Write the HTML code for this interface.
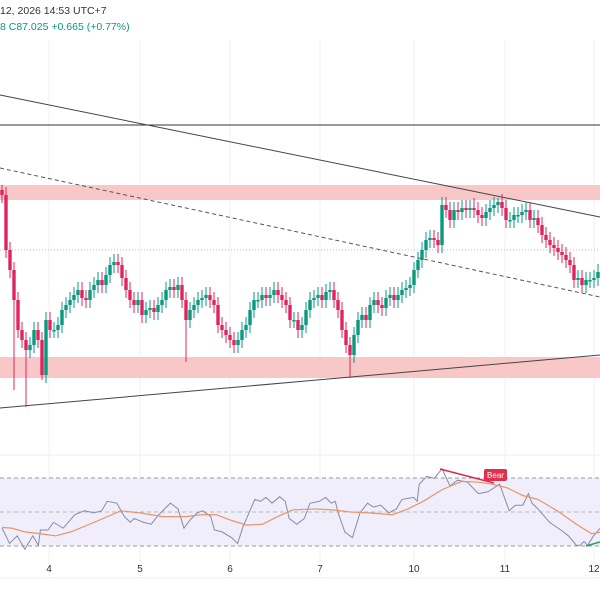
<!DOCTYPE html>
<html><head><meta charset="utf-8">
<style>
html,body{margin:0;padding:0;background:#fff;}
svg{display:block;font-family:"Liberation Sans",sans-serif;}
</style></head>
<body>
<svg id="chart" width="600" height="600" viewBox="0 0 600 600">
  <g id="grid"></g>
  <rect x="0" y="185" width="600" height="15" fill="#f8c8c8"/>
  <rect x="0" y="357" width="600" height="21" fill="#f8c8c8"/>
  <line x1="0" y1="125" x2="600" y2="125" stroke="#333" stroke-width="1"/>
  <line x1="0" y1="250" x2="600" y2="250" stroke="#bbb" stroke-width="1" stroke-dasharray="1,2"/>
  <line x1="0" y1="95" x2="600" y2="217" stroke="#444" stroke-width="1"/>
  <line x1="0" y1="168" x2="600" y2="297" stroke="#555" stroke-width="1" stroke-dasharray="4,3"/>
  <line x1="0" y1="408" x2="600" y2="355" stroke="#444" stroke-width="1"/>
  <g id="candles"></g>
  <text x="0" y="14" font-size="10.5" fill="#333">12, 2026 14:53 UTC+7</text>
  <text x="0" y="30" font-size="10.5" fill="#089981">8  C87.025  +0.665 (+0.77%)</text>
  <line x1="0" y1="455" x2="600" y2="455" stroke="#eee"/>
  <rect x="0" y="478" width="600" height="68" fill="#efeefa"/>
  <line x1="0" y1="478" x2="600" y2="478" stroke="#999" stroke-dasharray="4,3"/>
  <line x1="0" y1="512" x2="600" y2="512" stroke="#bbb" stroke-dasharray="4,3"/>
  <line x1="0" y1="546" x2="600" y2="546" stroke="#999" stroke-dasharray="4,3"/>
  <g id="rsi"></g>
  <line x1="0" y1="578" x2="600" y2="578" stroke="#eee"/>
  <g id="xaxis"></g>
</svg>
<script>
const closes=[24.5,19,17,14,11,10,9,9.5,11,10,6.5,12,11,11,11.5,13,13.5,14,14.5,15,14.2,14,15,15.5,16,15.5,16.5,17.5,17.8,17.5,16.2,15,14,13.5,14,12.5,13,13.2,12.8,13.5,14,15,15.3,15,15.5,14,12,13,13.5,14,14.2,14.5,14,13.5,11.5,11,10.5,10,9.5,10,11,11.5,13,14,14,14.5,14.2,14.5,15,14.5,14,13.5,12,12,11,11.5,13,14,14.2,14.5,14,14.8,15,14,13,11,9.5,8.5,10.5,12,12.5,12,13.5,14,13.5,13.2,14.2,14.5,14,14.5,15,15.2,15.5,17,18,19,20,20.2,20,19.5,23.5,23,22,23,22.8,23.2,23,23.2,23,22.5,22.2,22.8,23.2,23.5,23.8,23.2,22,22,22.5,22.5,22.8,23,22,22.2,21.5,20.5,20,19.5,19.2,18.8,18.5,18,17.5,16,16.2,15.5,16,16,16.2,16.8,17.2];
const firstOpen=25;
const longLowIdx=[3,6,46,87,10];
const longLowVal=[5,3.3,7.8,6.2,6];
const longHighIdx=[0,111,118,124];
const longHighVal=[25.5,24.3,24.2,24.2];
const dateLabels=["4","5","6","7","10","11","12"];
const dateIdx=[11.75,34.5,57,79.5,103,125.75,148];
const rsiT=[0,1.9,3.8,5.7,7.7,9.1,9.6,11.5,12.9,15.3,18.2,20.6,23,24.9,26.3,28.7,30.6,32.1,33,35.4,37.3,39.2,42.1,44,45.5,46.9,48.8,50.2,52.2,53.1,55,57.4,58.9,60.3,63.2,64.6,66,67.5,69.4,70.8,71.8,73.7,75.6,77,79.4,80.9,82.3,83.3,84.2,85.7,87.6,89.5,91.4,92.8,94.7,96.7,98.6,100,102.9,103.8,104.3,106.2,108.1,110,112,113.9,116.3,119.1,121.5,124.4,126.8,128.3,130.2,131.6,132.5,134,136.9,139.7,141.6,143.6,144.5,145.5,146.4,147.9,150];
const rsiVal=[40.5,31.5,36,28.1,36,30.4,39.4,39.4,43.9,40.5,48.4,50.7,49.5,50.7,56.3,55.2,47.3,43.9,46.2,43.9,42.8,48.4,55.2,51.8,40.5,45,49.5,50.7,47.3,39.4,38.3,34.9,31.5,41.6,57.4,56.3,58.6,55.2,59,56.3,46.2,42.8,46.2,55.2,56.3,58.6,55.2,56.3,48.4,38.3,34.9,49.5,55.2,52.9,54,49.5,51.8,57.4,58.6,56.3,66.4,71,69.8,75.5,65.3,68.7,67.6,60.8,61.9,66.4,50.7,54,54,60.8,55.2,51.8,43.9,39.4,36,30.4,30.4,32.7,30.4,36,41.6];
const maT=[0,2.4,5.7,9.6,13.4,17.2,23,29.7,34.5,40.2,45.9,49.8,53.6,57.4,61.2,65.1,68.9,72.7,78.5,83.3,87.1,91.9,97.6,101.5,105.3,110,114.9,118.7,122.5,126.3,130.2,134,138.8,143.6,147.4,150];
const maVal=[40.9,40.5,38.3,37.2,36,38.3,43.9,50.7,49.5,47.3,47.3,48.4,48.4,45,42.3,42.8,47.3,51.3,51.8,51.1,50,49.5,48.4,51.8,56.3,63.1,68,67.6,66.4,64.2,59.7,57.4,50.7,42.8,37.2,38.3];

const S='http://www.w3.org/2000/svg';
const xS=i=>i*4+2;
const yS=p=>440-p*10;
const rY=v=>546-(v-30)*68/40;
function mk(tag,attrs,parent){const e=document.createElementNS(S,tag);for(const k in attrs)e.setAttribute(k,attrs[k]);parent.appendChild(e);return e;}

const grid=document.getElementById('grid');
dateIdx.forEach((d,k)=>{
  const l=mk('line',{x1:xS(d),x2:xS(d),y1:40,y2:578,stroke:'#f2f2f2'},grid);
  
  
});

const cg=document.getElementById('candles');
closes.forEach((c,i)=>{
  const o=i===0?firstOpen:closes[i-1];
  let hi=Math.max(o,c)+0.8, lo=Math.min(o,c)-0.8;
  const a=longLowIdx.indexOf(i); if(a>=0) lo=longLowVal[a];
  const b=longHighIdx.indexOf(i); if(b>=0) hi=longHighVal[b];
  const col=c>=o?'#089981':'#e0245e';
  const w=mk('line',{x1:xS(i),x2:xS(i),y1:yS(hi),y2:yS(lo),stroke:col,'stroke-width':1},cg);
  
  
  const top=yS(Math.max(o,c)),h=Math.max(1.5,Math.abs(yS(o)-yS(c)));
  const r=mk('rect',{x:xS(i)-1.7,y:top,width:3.4,height:h,fill:col},cg);
  
  
});

const rg=document.getElementById('rsi');
const rp=mk('polyline',{points:rsiT.map((t,k)=>xS(t)+','+rY(rsiVal[k])).join(' '),fill:'none',stroke:'#8a8aa8','stroke-width':1},rg);


const mp=mk('polyline',{points:maT.map((t,k)=>xS(t)+','+rY(maVal[k])).join(' '),fill:'none',stroke:'#e8956a','stroke-width':1.2},rg);


const bl=mk('line',{x1:440,y1:469,x2:494,y2:483,stroke:'#d32f4f','stroke-width':1.5},rg);


const gl=mk('line',{x1:586,y1:546,x2:600,y2:542,stroke:'#2e9e5e','stroke-width':1.5},rg);


const bb=mk('rect',{x:484,y:469,width:23,height:12,rx:2,fill:'#e0304e'},rg);


const bt=mk('text',{x:495.5,y:478,'font-size':8,fill:'#fff','text-anchor':'middle'},rg);
bt.textContent='Bear';



const xa=document.getElementById('xaxis');
dateLabels.forEach((t,k)=>{
  const e=mk('text',{x:xS(dateIdx[k]),y:572,'font-size':10,fill:'#333','text-anchor':'middle'},xa);
  e.textContent=t;
  
  
});
</script>
</body></html>
